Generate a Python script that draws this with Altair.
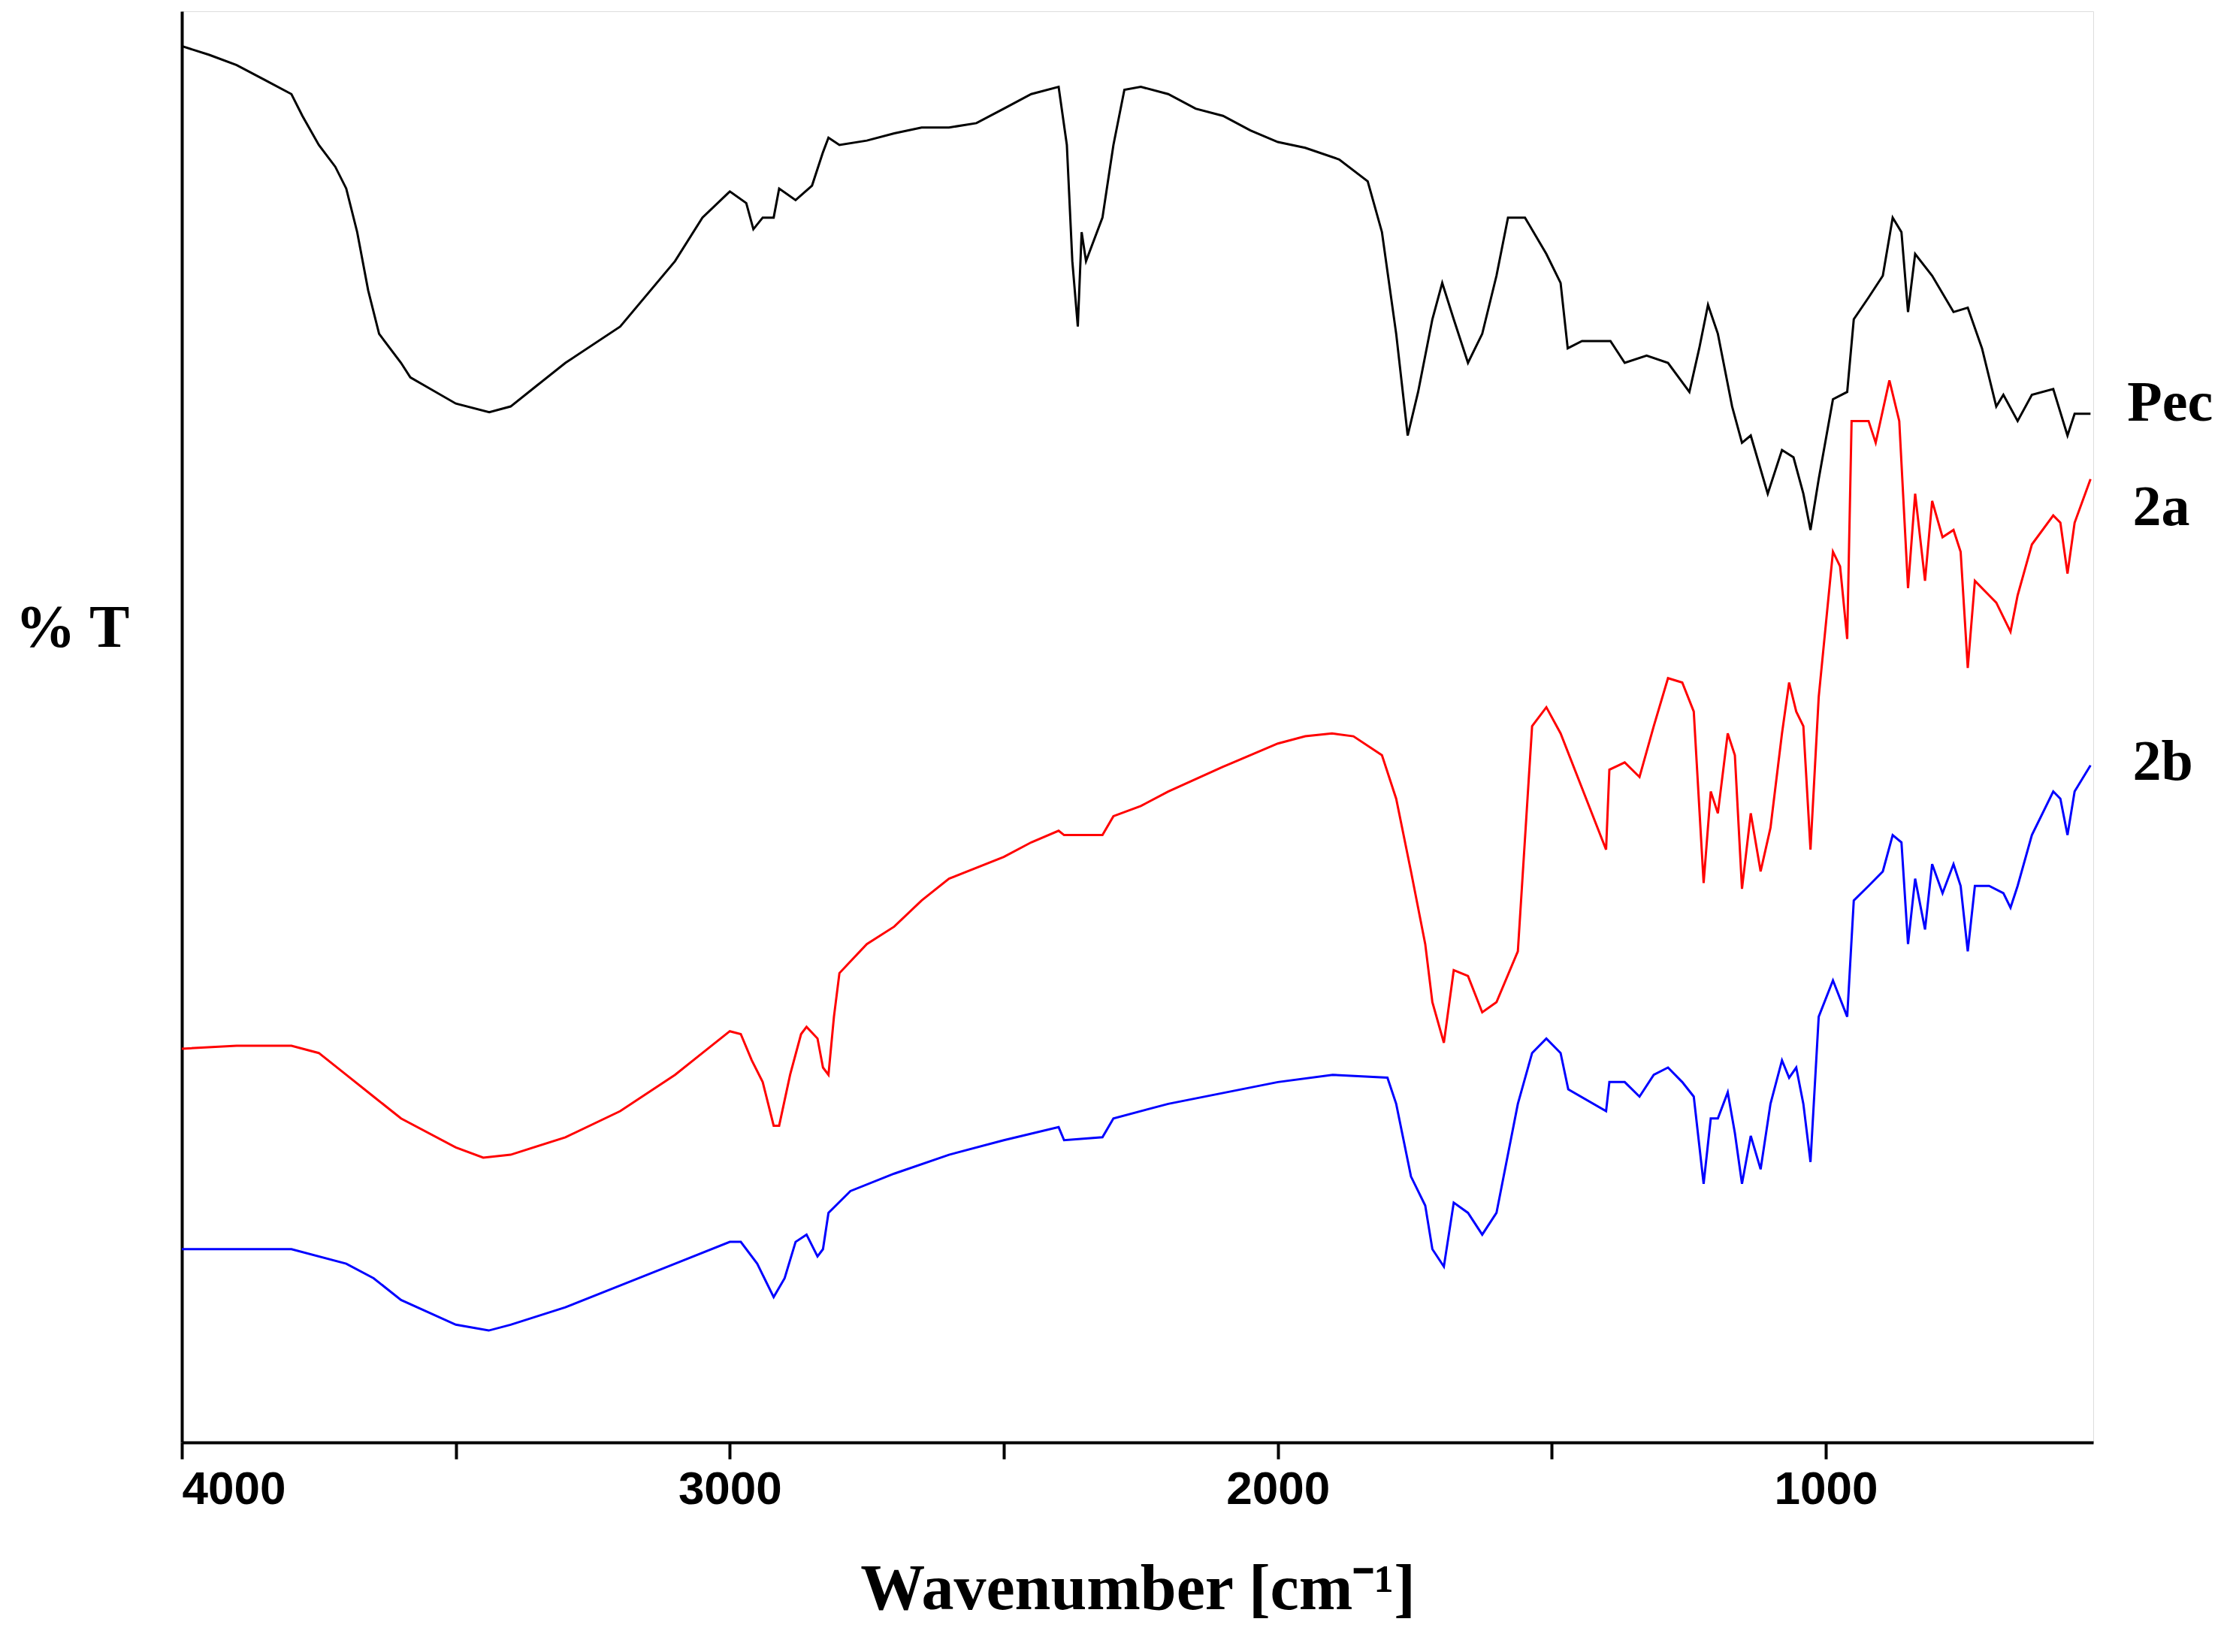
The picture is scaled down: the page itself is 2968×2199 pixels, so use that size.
import altair as alt
import pandas as pd

# px-read transmittance (arbitrary %T, T=(1000-py)/10)
pec_wn = [4000,3950,3900,3850,3800,3780,3750,3720,3700,3680,3660,3640,3600,3583,3560,3500,3439,3400,3350,3300,3200,3100,3050,3000,2970,2957,2940,2920,2910,2880,2850,2830,2820,2800,2750,2700,2650,2600,2550,2500,2450,2400,2385,2375,2365,2358,2350,2340,2320,2300,2280,2250,2200,2150,2100,2050,2000,1950,1888,1836,1810,1784,1763,1744,1718,1700,1679,1653,1627,1601,1580,1549,1510,1484,1471,1445,1393,1367,1327,1288,1249,1231,1215,1197,1171,1153,1137,1106,1080,1059,1041,1028,1013,987,961,949,922,896,878,862,850,837,806,767,741,715,689,676,650,624,585,559,546,517]
pec_py = [32,38,45,55,65,80,100,115,130,160,200,230,250,260,265,278,284,280,265,250,225,180,150,132,140,158,150,150,130,138,128,105,95,100,97,92,88,88,85,75,65,60,100,180,225,160,180,170,150,100,62,60,65,75,80,90,98,102,110,125,160,230,300,270,220,195,220,250,230,190,150,150,175,195,240,235,235,250,245,250,270,240,210,230,280,305,300,340,310,315,340,365,330,275,270,220,205,190,150,160,215,175,190,215,212,240,280,272,290,272,268,300,285,285]

a2_wn = [4000,3900,3800,3750,3700,3650,3600,3500,3450,3400,3300,3200,3100,3050,3000,2980,2960,2940,2920,2910,2890,2870,2860,2840,2830,2820,2810,2800,2750,2700,2650,2600,2500,2450,2400,2390,2320,2300,2250,2200,2100,2000,1950,1901,1862,1810,1784,1757,1731,1718,1697,1679,1653,1627,1601,1562,1536,1510,1484,1401,1395,1367,1340,1314,1288,1262,1241,1223,1210,1197,1179,1166,1153,1137,1119,1101,1080,1067,1054,1041,1028,1013,987,974,961,953,922,909,884,866,850,837,819,806,787,767,754,741,728,702,689,663,650,624,585,572,559,546,517]
a2_py = [722,720,720,725,740,755,770,790,797,795,783,765,740,725,710,712,730,745,775,775,740,712,707,715,735,740,700,670,650,638,620,605,590,580,572,575,575,562,555,545,528,512,507,505,507,520,550,600,650,690,718,668,672,697,690,655,500,487,505,585,530,525,535,500,467,470,490,608,545,560,505,520,612,560,600,570,505,470,490,500,585,480,380,390,440,290,290,305,262,290,405,340,400,345,370,365,380,460,400,410,415,435,410,375,355,360,395,360,330]

b2_wn = [4000,3800,3700,3650,3600,3500,3440,3400,3300,3200,3100,3000,2980,2950,2920,2900,2880,2860,2840,2830,2820,2780,2700,2600,2500,2400,2390,2320,2300,2200,2000,1900,1800,1784,1757,1731,1718,1697,1679,1653,1627,1601,1562,1536,1510,1484,1470,1401,1395,1367,1340,1314,1288,1262,1241,1223,1210,1197,1179,1166,1153,1137,1119,1101,1080,1067,1054,1041,1028,1013,987,961,949,922,896,878,862,850,837,819,806,787,767,754,741,728,702,676,663,650,624,585,572,559,546,517]
b2_py = [860,860,870,880,895,912,916,912,900,885,870,855,855,870,893,880,855,850,865,860,835,820,808,795,785,776,785,783,770,760,745,740,742,760,810,830,860,872,828,835,850,835,760,725,715,725,750,765,745,745,755,740,735,745,755,815,770,770,752,780,815,782,805,760,730,742,735,760,800,700,675,700,620,610,600,575,580,650,605,640,595,615,595,610,655,610,610,615,625,610,575,545,550,575,545,527]

names = ["Pec", "2a", "2b"]
colors = ["#000000", "#ff0000", "#0000ff"]

rows = []
for n, wn, py in zip(names, [pec_wn, a2_wn, b2_wn], [pec_py, a2_py, b2_py]):
    for i, (w, p) in enumerate(zip(wn, py)):
        rows.append({"s": n, "wn": w, "T": (1000 - p) / 10, "o": i})
df = pd.DataFrame(rows)

lab = pd.DataFrame({"s": names, "wn": [450, 440, 440], "T": [72.2, 65.0, 47.5]})

xs = alt.Scale(domain=[4000, 512], nice=False, zero=False)
ys = alt.Scale(domain=[0.7, 99.2], nice=False, zero=False)
cs = alt.Scale(domain=names, range=colors)

lines = alt.Chart(df).mark_line(strokeWidth=3, clip=False).encode(
    x=alt.X("wn:Q", scale=xs, title="Wavenumber [cm⁻¹]",
            axis=alt.Axis(values=[4000, 3500, 3000, 2500, 2000, 1500, 1000],
                          labelExpr="datum.value % 1000 == 0 ? datum.label : ''",
                          format="d", grid=False, tickSize=22, tickWidth=4, domainWidth=4,
                          domainColor="black", tickColor="black",
                          labelFont="Liberation Sans", labelFontWeight="bold", labelFontSize=62,
                          labelColor="black", labelPadding=10,
                          titleFont="Liberation Serif", titleFontWeight="bold", titleFontSize=86,
                          titleColor="black", titlePadding=60)),
    y=alt.Y("T:Q", scale=ys, title="% T",
            axis=alt.Axis(ticks=False, labels=False, grid=False, domainWidth=4, domainColor="black",
                          titleAngle=0, titleAlign="left", titleX=-222, titleY=862,
                          titleFont="Liberation Serif", titleFontWeight="bold", titleFontSize=80,
                          titleColor="black")),
    color=alt.Color("s:N", scale=cs, legend=None),
    order="o:Q",
    detail="s:N",
)

texts = alt.Chart(lab).mark_text(align="left", baseline="middle", font="Liberation Serif",
                                 fontWeight="bold", fontSize=76, color="black").encode(
    x=alt.X("wn:Q", scale=xs), y=alt.Y("T:Q", scale=ys), text="s:N")

chart = alt.layer(lines, texts).properties(
    width=2950, height=2180,
    autosize=alt.AutoSizeParams(type="fit", contains="padding"),
    padding={"left": 12, "top": 7, "right": 5, "bottom": 30},
).configure_view(stroke=None).configure(background="white")

chart.save("out.html", embed_options={"renderer": "svg", "actions": False})
